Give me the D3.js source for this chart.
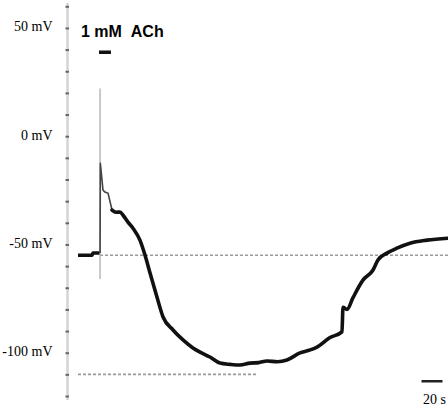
<!DOCTYPE html>
<html>
<head>
<meta charset="utf-8">
<script src="https://cdn.jsdelivr.net/npm/d3@7"></script>
<style>
  html, body { margin: 0; padding: 0; background: #fff; }
  svg { display: block; }
</style>
</head>
<body>
<svg id="chart" width="448" height="411"></svg>
<script>
// ---------- DATA ----------
// membrane potential axis ticks (mV)
const yTickValues = d3.range(-120, 61, 10);
const yLabelValues = [50, 0, -50, -100];
// resting trace before ACh (time s, mV)
const preTime  = [0, 13.3, 14.3, 20.5];
const preMV    = [-55, -55, -54, -54];
// fast transient right after application
const spikeTime = [21, 21.3, 23.8, 25.7, 28.6, 32.4];
const spikeMV   = [-54, -12.5, -24.9, -25.8, -26.3, -34.1];
// slow hyperpolarisation and recovery
const mainTime = [32.4, 36.2, 40, 42.9, 47.6, 52.4, 59, 63.8, 68.6, 75.2, 81, 90.5, 100, 109.5, 116.2, 125.7, 135.2, 145, 154.3, 163.8, 172, 180, 190, 199, 211.4, 220, 227.6, 240, 251.4, 252.4, 256.2, 261.9, 271.4, 281, 285.7, 294.3, 303.8, 316.2, 332.4, 352.4];
const mainMV   = [-34.1, -35.1, -35, -36.5, -39.7, -42.5, -48, -54.9, -63.2, -74.3, -83.5, -89.5, -94.1, -97.8, -99.7, -102, -104.8, -105.4, -105.7, -104.8, -104.6, -103.8, -104.2, -103.4, -100.1, -98.9, -97.4, -93, -90.4, -79, -80, -74.6, -66.5, -61.8, -57.2, -54, -51.7, -49.4, -48, -47.1];
// stimulus artifact (gray vertical line)
const artifactTime = 21;
const artifactMV = [22, -66];
// reference levels
const restLevel = -55, restStart = 21, restEnd = 352.4;
const minLevel = -110, minStart = 0, minEnd = 171;
// ACh application bar
const drugStart = 20, drugEnd = 31.4, drugLabel = "1 mM\u00A0\u00A0ACh";
// time scale bar
const scaleBarStart = 332.4, scaleBarLength = 20, scaleBarLabel = "20 s";

// ---------- SCALES ----------
const svg = d3.select("#chart");
const x = d3.scaleLinear().domain([0, 352.4]).range([78, 448]);
const y = d3.scaleLinear().domain([-120, 60]).range([396, 6.3]);
const axisX = 67.5;

// ---------- AXIS ----------
svg.append("line")
  .attr("x1", axisX).attr("x2", axisX)
  .attr("y1", 3).attr("y2", 400)
  .attr("stroke", "#d4d4d4").attr("stroke-width", 2.5);

const yAxis = d3.axisLeft(y)
  .tickValues(yTickValues)
  .tickSize(0)
  .tickPadding(15)
  .tickFormat(d => yLabelValues.includes(d) ? d + " mV" : "");

const gAxis = svg.append("g")
  .attr("transform", `translate(${axisX},0)`)
  .call(yAxis);
gAxis.select(".domain").remove();
gAxis.selectAll(".tick line")
  .attr("x1", -2).attr("x2", 1.5)
  .attr("stroke", "#666").attr("stroke-width", 2);
gAxis.selectAll(".tick text")
  .attr("fill", "#000")
  .attr("dy", "0.2em")
  .style("font-family", "'Liberation Serif', 'Times New Roman', serif")
  .style("font-size", "14px");

// ---------- REFERENCE DASHED LINES ----------
svg.append("line")
  .attr("x1", x(restStart)).attr("x2", x(restEnd))
  .attr("y1", y(restLevel)).attr("y2", y(restLevel))
  .attr("stroke", "#9a9a9a").attr("stroke-width", 1.6)
  .attr("stroke-dasharray", "3,2");
svg.append("line")
  .attr("x1", x(minStart)).attr("x2", x(minEnd))
  .attr("y1", y(minLevel)).attr("y2", y(minLevel))
  .attr("stroke", "#9a9a9a").attr("stroke-width", 1.6)
  .attr("stroke-dasharray", "3,2");

// ---------- ARTIFACT ----------
svg.append("line")
  .attr("x1", x(artifactTime)).attr("x2", x(artifactTime))
  .attr("y1", y(artifactMV[0])).attr("y2", y(artifactMV[1]))
  .attr("stroke", "#b8b8b8").attr("stroke-width", 1.5);

// ---------- TRACES ----------
const line = d3.line().x(d => x(d[0])).y(d => y(d[1]));
const zipT = (t, v) => t.map((tt, i) => [tt, v[i]]);

svg.append("path")
  .datum(zipT(preTime, preMV))
  .attr("d", line)
  .attr("fill", "none").attr("stroke", "#111")
  .attr("stroke-width", 3.5).attr("stroke-linejoin", "round");

svg.append("path")
  .datum(zipT(spikeTime, spikeMV))
  .attr("d", line)
  .attr("fill", "none").attr("stroke", "#444")
  .attr("stroke-width", 1.6).attr("stroke-linejoin", "round");

svg.append("path")
  .datum(zipT(mainTime, mainMV))
  .attr("d", line.curve(d3.curveMonotoneX))
  .attr("fill", "none").attr("stroke", "#111")
  .attr("stroke-width", 3.6).attr("stroke-linejoin", "round")
  .attr("stroke-linecap", "round");

// ---------- ACh BAR + LABEL ----------
svg.append("text")
  .attr("x", 81).attr("y", 37)
  .style("font-family", "'Liberation Sans', Arial, sans-serif")
  .style("font-weight", "bold")
  .style("font-size", "16px")
  .attr("fill", "#000")
  .text(drugLabel);
svg.append("rect")
  .attr("x", x(drugStart)).attr("width", x(drugEnd) - x(drugStart))
  .attr("y", 50.5).attr("height", 3.5)
  .attr("fill", "#111");

// ---------- TIME SCALE BAR ----------
svg.append("rect")
  .attr("x", x(scaleBarStart) - 5.5)
  .attr("width", x(scaleBarStart + scaleBarLength) - x(scaleBarStart))
  .attr("y", 380).attr("height", 2.5)
  .attr("fill", "#222");
svg.append("text")
  .attr("x", 423).attr("y", 404)
  .style("font-family", "'Liberation Serif', 'Times New Roman', serif")
  .style("font-size", "14px")
  .attr("fill", "#000")
  .text(scaleBarLabel);
</script>
</body>
</html>
